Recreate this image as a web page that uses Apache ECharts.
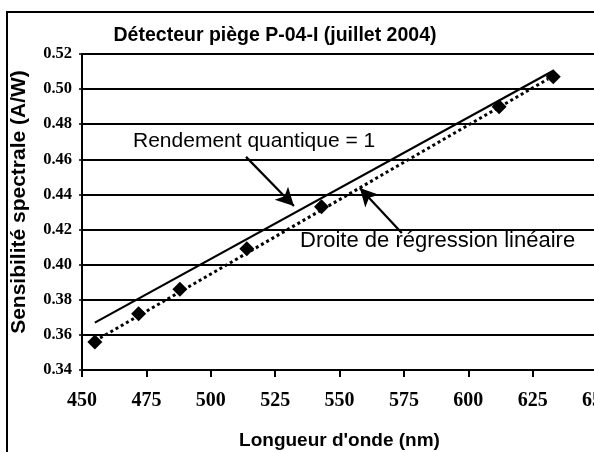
<!DOCTYPE html>
<html lang="fr">
<head>
    <meta charset="UTF-8">
    <title>Détecteur piège P-04-I</title>
    <script src="https://cdn.jsdelivr.net/npm/echarts@6/dist/echarts.min.js"></script>
    <style>
        html, body {margin: 0; padding: 0; background: #fff;}
    </style>
</head>
<body>
<div id="chartContainer" style="width:594px;height:452px;"></div>
<script type="text/javascript">
    // points mesurés (longueur d'onde nm, sensibilité A/W)
    var wavelengths = [455, 472, 488, 514, 543, 612, 633];
    var sensitivities = [0.356, 0.372, 0.386, 0.409, 0.433, 0.490, 0.507];
    // droite rendement quantique = 1 (extrémités)
    var idealLine = [[455, 0.367], [633, 0.5105]];
    // droite de régression linéaire (extrémités lues)
    var regressionLine = [[455, 0.3565], [631, 0.5058]];
    // flèches d'annotation [départ, arrivée]
    var arrowIdeal = [[513.7, 0.4614], [532.3, 0.4334]];
    var arrowRegression = [[574.2, 0.4181], [557.9, 0.4437]];
    var yTicks = [0.34, 0.52, 0.02];
    var xTicks = [450, 650, 25];

    var points = wavelengths.map(function (w, i) {
        return [w, sensitivities[i]];
    });

    var chartDom = document.getElementById('chartContainer');
    var myChart = echarts.init(chartDom);
    var option = {
        backgroundColor: '#fff',
        animation: false,
        title: {
            text: 'Détecteur piège P-04-I (juillet 2004)',
            left: 270,
            top: 21,
            textAlign: 'center',
            textStyle: {
                fontFamily: 'Liberation Sans',
                fontWeight: 'bold',
                fontSize: 19.5,
                color: '#000'
            }
        },
        grid: {left: 82, top: 54, width: 515, height: 316, outerBoundsMode: 'none', containLabel: false},
        xAxis: {
            type: 'value',
            min: xTicks[0],
            max: xTicks[1],
            interval: xTicks[2],
            name: "Longueur d'onde (nm)",
            nameLocation: 'middle',
            nameGap: 61,
            nameTextStyle: {fontFamily: 'Liberation Sans', fontWeight: 'bold', fontSize: 19, color: '#000'},
            axisLine: {lineStyle: {color: '#000', width: 2}},
            axisTick: {show: true, length: 7, lineStyle: {color: '#000', width: 2}},
            axisLabel: {
                margin: 21,
                fontFamily: 'Liberation Serif',
                fontWeight: 'bold',
                fontSize: 20,
                color: '#000'
            },
            splitLine: {show: false}
        },
        yAxis: {
            type: 'value',
            min: yTicks[0],
            max: yTicks[1],
            interval: yTicks[2],
            name: 'Sensibilité spectrale (A/W)',
            nameLocation: 'middle',
            nameGap: 52,
            nameRotate: 90,
            nameTextStyle: {
                fontFamily: 'Liberation Sans',
                fontWeight: 'bold',
                fontSize: 21,
                color: '#000',
                padding: [0, 0, 0, 20]
            },
            axisLine: {show: true, lineStyle: {color: '#000', width: 2}},
            axisTick: {show: true, length: 3, lineStyle: {color: '#000', width: 1.5}},
            axisLabel: {
                margin: 10,
                fontFamily: 'Liberation Serif',
                fontWeight: 'bold',
                fontSize: 16.5,
                color: '#000',
                formatter: function (v) { return v.toFixed(2); }
            },
            splitLine: {show: true, lineStyle: {color: '#000', width: 1.8}}
        },
        series: [
            // rendement quantique = 1
            {
                type: 'line',
                data: idealLine,
                symbol: 'none',
                silent: true,
                lineStyle: {color: '#000', width: 2.2, type: 'solid'},
                markLine: {
                    silent: true,
                    symbol: ['none', 'arrow'],
                    symbolSize: [14, 18],
                    label: {show: false},
                    lineStyle: {color: '#000', width: 2.2, type: 'solid'},
                    data: [
                        [{coord: arrowIdeal[0]}, {coord: arrowIdeal[1]}],
                        [{coord: arrowRegression[0]}, {coord: arrowRegression[1]}]
                    ]
                }
            },
            // droite de régression
            {
                type: 'line',
                data: regressionLine,
                symbol: 'none',
                silent: true,
                lineStyle: {color: '#000', width: 3, type: [3, 3]}
            },
            // points de mesure
            {
                type: 'scatter',
                data: points,
                symbol: 'diamond',
                symbolSize: 15,
                itemStyle: {color: '#000', opacity: 1}
            }
        ],
        graphic: [
            // cadre extérieur
            {
                type: 'rect',
                shape: {x: 7, y: 12, width: 700, height: 600},
                style: {fill: 'none', stroke: '#000', lineWidth: 2},
                silent: true
            },
            {
                type: 'text',
                left: 133,
                top: 131,
                style: {text: 'Rendement quantique = 1', font: '21px "Liberation Sans"', fill: '#000'}
            },
            {
                type: 'text',
                left: 300,
                top: 230,
                style: {text: 'Droite de régression linéaire', font: '22px "Liberation Sans"', fill: '#000'}
            }
        ]
    };
    myChart.setOption(option);
</script>
</body>
</html>
